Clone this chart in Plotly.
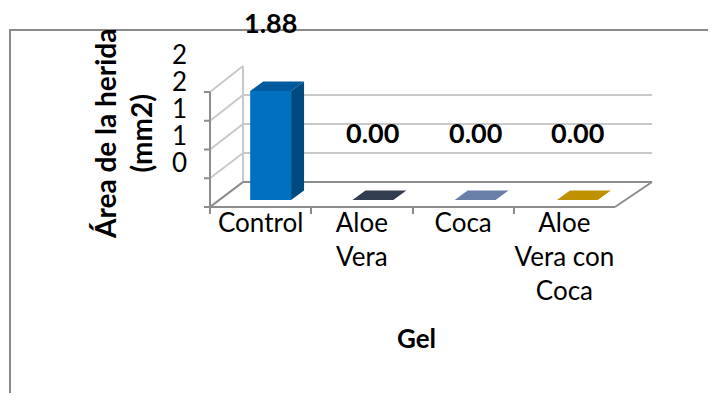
import plotly.graph_objects as go

# ---------------- data ----------------
categories = ["Control", "Aloe Vera", "Coca", "Aloe Vera con Coca"]
category_labels = ["Control", "Aloe<br>Vera", "Coca", "Aloe<br>Vera con<br>Coca"]
wound_area = [1.88, 0.00, 0.00, 0.00]
y_tick_vals = [0, 0.5, 1, 1.5, 2]
y_tick_text = ["0", "1", "1", "2", "2"]
y_title = "Área de la herida<br>(mm2)"
x_title = "Gel"

# ---------------- styles ----------------
PAGE_W, PAGE_H = 716, 401
BODY = 8  # default page margin around the figure
W, H = PAGE_W - 2 * BODY, PAGE_H - 2 * BODY
FONT = "Lato, 'Liberation Sans', sans-serif"
bar_front = ["#0070C0", "#3B4A5E", "#7B91BD", "#D9A400"]
bar_top = ["#005A9E", "#323E4F", "#6A7FA8", "#BF9000"]
bar_side = ["#004A82", "#2A3443", "#5A6C8F", "#A37B00"]
GRID = "#c9c9c9"
AXIS = "#8c8c8c"

# projected geometry (page pixels)
FRONT_X0, FRONT_X1, FRONT_Y0, FRONT_YTOP = 210, 615, 207, 92
BACK_X0, BACK_X1, BACK_Y0, BACK_YTOP = 243, 652, 182, 66
BAR_X0, BAR_X1, BAR_Y0, PX_PER_UNIT = 219.5, 628.5, 200, 58.0
LABEL_Y0, LABEL_YTOP = 163, 55
YMAX = 2.0
DEPTH_PX_X, DEPTH_PX_Y = 13, 9.5


def px(x):
    return (x - BODY) / W


def py(y):
    return 1 - (y - BODY) / H


cat_px = (BAR_X1 - BAR_X0) / len(categories)
DX = DEPTH_PX_X / cat_px
DY = DEPTH_PX_Y / PX_PER_UNIT
BAR_W = 0.4
BAR_YMAX = 2.5

fig = go.Figure()

# back wall subplot (gridlines only)
fig.add_trace(go.Scatter(x=[0], y=[0], mode="markers", marker=dict(opacity=0),
                         hoverinfo="skip", showlegend=False, xaxis="x", yaxis="y"))

# bar plane subplot
xs = list(range(len(categories)))
fig.add_trace(go.Bar(x=xs, y=wound_area, width=BAR_W, marker=dict(color=bar_front, line=dict(width=0)),
                     showlegend=False, xaxis="x2", yaxis="y2", hoverinfo="skip"))
for i, v in enumerate(wound_area):
    x0, x1 = i - BAR_W / 2, i + BAR_W / 2
    # top face
    fig.add_trace(go.Scatter(
        x=[x0, x0 + DX, x1 + DX, x1, x0], y=[v, v + DY, v + DY, v, v],
        fill="toself", fillcolor=bar_top[i], mode="lines", line=dict(width=0, color=bar_top[i]),
        showlegend=False, hoverinfo="skip", xaxis="x2", yaxis="y2"))
    if v > 0:
        # side face
        fig.add_trace(go.Scatter(
            x=[x1, x1 + DX, x1 + DX, x1, x1], y=[0, DY, v + DY, v, 0],
            fill="toself", fillcolor=bar_side[i], mode="lines", line=dict(width=0, color=bar_side[i]),
            showlegend=False, hoverinfo="skip", xaxis="x2", yaxis="y2"))

# category / value-label subplot
fig.add_trace(go.Scatter(x=category_labels, y=[0] * len(categories), mode="markers",
                         marker=dict(opacity=0), hoverinfo="skip", showlegend=False,
                         xaxis="x3", yaxis="y3"))

# data labels
for i, v in enumerate(wound_area):
    fig.add_annotation(x=i, y=v, xref="x2", yref="y2", text=f"<b>{v:.2f}</b>",
                       xanchor="center", yanchor="middle",
                       showarrow=False, yshift=68, font=dict(size=27, color="black", family=FONT))

# axis titles
fig.add_annotation(x=px(123), y=py(134), xref="paper", yref="paper", text=f"<b>{y_title}</b>",
                   xanchor="center", yanchor="middle",
                   textangle=-90, showarrow=False, font=dict(size=28, color="black", family=FONT))
fig.add_annotation(x=px(416), y=py(338), xref="paper", yref="paper", text=f"<b>{x_title}</b>",
                   xanchor="center", yanchor="middle",
                   showarrow=False, font=dict(size=26, color="black", family=FONT))

shapes = []


def line(x0, y0, x1, y1, color, width=2):
    shapes.append(dict(type="line", xref="paper", yref="paper", x0=px(x0), y0=py(y0),
                       x1=px(x1), y1=py(y1), line=dict(color=color, width=width), layer="below"))


# chart border
shapes.append(dict(type="rect", xref="paper", yref="paper", x0=px(10), y0=py(30), x1=1.2, y1=-0.2,
                   line=dict(color="#8a8a8a", width=2), layer="below"))

front_scale = (FRONT_Y0 - FRONT_YTOP) / YMAX
back_scale = (BACK_Y0 - BACK_YTOP) / YMAX
for v in y_tick_vals:
    yf = FRONT_Y0 - v * front_scale
    yb = BACK_Y0 - v * back_scale
    line(FRONT_X0, yf, BACK_X0, yb, GRID)
    line(FRONT_X0 - 6, yf, FRONT_X0, yf, AXIS)
line(BACK_X0, BACK_YTOP, BACK_X0, BACK_Y0, GRID)
line(FRONT_X0, FRONT_YTOP, FRONT_X0, FRONT_Y0, AXIS)
# floor
line(BACK_X0, BACK_Y0, BACK_X1, BACK_Y0, AXIS)
line(BACK_X1, BACK_Y0, FRONT_X1, FRONT_Y0, AXIS)
line(FRONT_X0, FRONT_Y0, BACK_X0, BACK_Y0, AXIS)

fig.update_layout(
    width=W, height=H, autosize=False,
    margin=dict(l=0, r=0, t=0, b=0, pad=0, autoexpand=False),
    paper_bgcolor="white", plot_bgcolor="rgba(0,0,0,0)",
    font=dict(family=FONT, size=26, color="black"),
    shapes=shapes,
    xaxis=dict(domain=[px(BACK_X0), px(BACK_X1)], range=[0, 1], visible=False, fixedrange=True,
               automargin=False),
    yaxis=dict(domain=[py(BACK_Y0), py(BACK_YTOP)], range=[0, YMAX], tickvals=y_tick_vals[1:],
               showgrid=True, gridcolor=GRID, gridwidth=2, showticklabels=False, zeroline=False,
               showline=False, ticks="", fixedrange=True, automargin=False),
    xaxis2=dict(domain=[px(BAR_X0), px(BAR_X1)], range=[-0.5, len(categories) - 0.5],
                visible=False, anchor="y2", fixedrange=True, automargin=False),
    yaxis2=dict(domain=[py(BAR_Y0), py(BAR_Y0 - BAR_YMAX * PX_PER_UNIT)], range=[0, BAR_YMAX],
                visible=False, anchor="x2", fixedrange=True, automargin=False),
    xaxis3=dict(domain=[px(FRONT_X0), px(FRONT_X1)], type="category", categoryorder="array",
                categoryarray=category_labels, range=[-0.5, len(categories) - 0.5],
                anchor="free", position=py(FRONT_Y0), tickson="boundaries", ticks="outside",
                ticklen=6, tickcolor=AXIS, tickwidth=2, showline=True, linecolor=AXIS, linewidth=2,
                showgrid=False, zeroline=False, tickangle=0, automargin=False, ticklabelstandoff=-7,
                tickfont=dict(size=26, family=FONT, color="black"), fixedrange=True),
    yaxis3=dict(domain=[py(LABEL_Y0), py(LABEL_YTOP)], range=[0, YMAX], tickvals=y_tick_vals,
                ticktext=y_tick_text, anchor="free", position=px(187), showgrid=False,
                zeroline=False, showline=False, ticks="", automargin=False,
                tickfont=dict(size=26, family=FONT, color="black"), fixedrange=True),
)

fig.write_html("out.html")
